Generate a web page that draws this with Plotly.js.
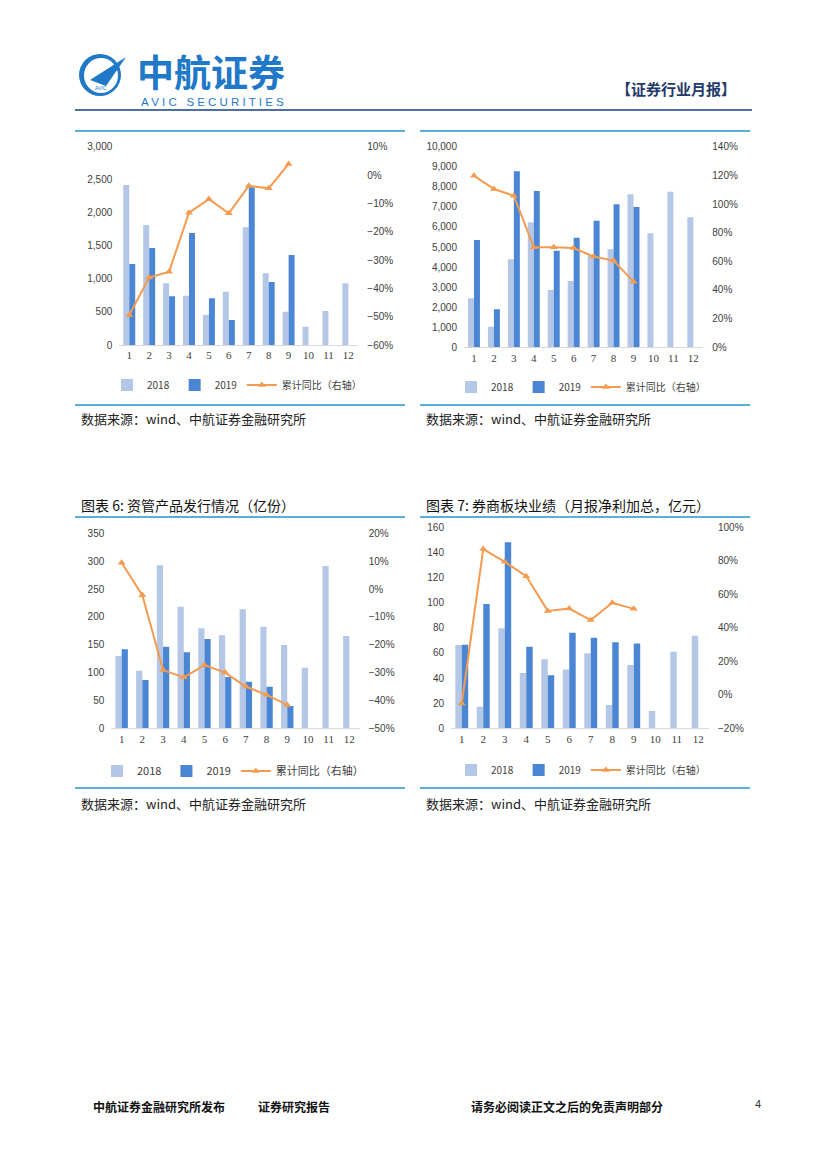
<!DOCTYPE html>
<html><head><meta charset="utf-8">
<script src="https://cdn.plot.ly/plotly-3.0.1.min.js"></script>
<style>html,body{margin:0;padding:0;background:#fff;}#page{width:827px;height:1169px;}</style>
</head><body><div id="page"></div>
<script>
// ---- data ----
const months = ['1','2','3','4','5','6','7','8','9','10','11','12'];
const seriesNames = ['2018','2019','累计同比（右轴）'];

// chart A (top-left)
const a2018 = [2420,1815,933,746,454,807,1780,1084,504,277,514,933];
const a2019 = [1225,1467,736,1694,706,378,2385,953,1361];
const aYoY  = [-0.494,-0.362,-0.341,-0.133,-0.085,-0.135,-0.038,-0.047,0.039];

// chart B (top-right)
const b2018 = [2442,1030,4385,6229,2857,3306,4601,4884,7625,5681,7757,6478];
const b2019 = [5349,1894,8771,7791,4817,5465,6312,7126,6993];
const bYoY  = [1.198,1.105,1.058,0.698,0.698,0.693,0.633,0.605,0.458];

// chart 6: 资管产品发行情况（亿份）
const c2018 = [129.8,103.5,292.5,218.3,179.4,166.9,213.5,182.4,149.5,108.9,291.3,165.7];
const c2019 = [141.7,86.7,146.5,136.4,160.3,92.1,83.7,74.8,40.1];
const cYoY  = [0.094,-0.022,-0.291,-0.317,-0.273,-0.300,-0.350,-0.380,-0.416];

// chart 7: 券商板块业绩（月报净利加总，亿元）
const d2018 = [66.3,17.2,79.6,44.0,54.9,46.9,59.7,18.6,50.4,13.8,61.0,73.7];
const d2019 = [66.6,98.9,148.0,65.0,42.2,76.1,72.1,68.4,67.6];
const dYoY  = [-0.052,0.870,0.794,0.708,0.501,0.515,0.446,0.549,0.513];

const titles = ['图表 6: 资管产品发行情况（亿份）','图表 7: 券商板块业绩（月报净利加总，亿元）'];
const sourceText = '数据来源：wind、中航证券金融研究所';

// ---- style ----
const W = 827, H = 1169;
const px = x => x / W, py = y => 1 - y / H;
const C18 = '#b4c7e7', C19 = '#4a86d3', CL = '#f59b4f';
const RULE = '#5aafd9';
const CJK = '"Noto Sans CJK SC", "Noto Sans", sans-serif';
const NUM = 'Arial, "Liberation Sans", sans-serif';
const SER = '"Liberation Serif", "DejaVu Serif", serif';

const charts = [
  {y18:a2018,y19:a2019,yoy:aYoY, box:[119.3,358.3,146.7,345], left:[0,3000,500], right:[-0.6,0.1,0.1], lg:[107,385,10]},
  {y18:b2018,y19:b2019,yoy:bYoY, box:[464,703.3,146.7,347.3], left:[0,10000,1000], right:[0,1.4,0.2], lg:[451,387,10]},
  {y18:c2018,y19:c2019,yoy:cYoY, box:[111.3,359.7,533.3,728.3], left:[0,350,50], right:[-0.5,0.2,0.1], lg:[97,771,11]},
  {y18:d2018,y19:d2019,yoy:dYoY, box:[451,709,527.3,728.3], left:[0,160,20], right:[-0.2,1.0,0.2], lg:[451,770,10]}
];

const data = [];
const layout = {
  width: W, height: H, margin:{l:0,r:0,t:0,b:0},
  paper_bgcolor:'#fff', plot_bgcolor:'rgba(0,0,0,0)',
  barmode:'group', bargap:0.4, bargroupgap:0,
  shapes:[], annotations:[], font:{family:NUM, color:'#404040', size:10}
};

charts.forEach((c,i)=>{
  const n = i+1;
  const xa = n===1?'x':'x'+n, ya = (2*n-1)===1?'y':'y'+(2*n-1), yb = 'y'+(2*n);
  const lg = n===1?'legend':'legend'+n;
  data.push({type:'bar', name:seriesNames[0], x:months, y:c.y18, marker:{color:C18}, xaxis:xa, yaxis:ya, legend:lg, offsetgroup:'a'});
  data.push({type:'bar', name:seriesNames[1], x:months.slice(0,c.y19.length), y:c.y19, marker:{color:C19}, xaxis:xa, yaxis:ya, legend:lg, offsetgroup:'b'});
  data.push({type:'scatter', mode:'lines+markers', name:seriesNames[2], x:months.slice(0,c.yoy.length), y:c.yoy,
    line:{color:CL,width:2}, marker:{symbol:'triangle-up',size:7,color:CL}, xaxis:xa, yaxis:yb, legend:lg});
  const xk = n===1?'xaxis':'xaxis'+n;
  const yk1 = (2*n-1)===1?'yaxis':'yaxis'+(2*n-1), yk2 = 'yaxis'+(2*n);
  layout[xk] = {domain:[px(c.box[0]),px(c.box[1])], anchor:ya, type:'category',
    range:[-0.5,11.5], showline:true, linecolor:'#d9d9d9', linewidth:1, showgrid:false, zeroline:false, ticks:'',
    tickfont:{family:SER,size:11,color:'#404040'}, fixedrange:true};
  layout[yk1] = {domain:[py(c.box[3]),py(c.box[2])], anchor:xa, range:[c.left[0],c.left[1]], dtick:c.left[2], tick0:0,
    showgrid:false, zeroline:false, showline:false, ticks:'', tickformat:',d', ticklabelstandoff:6,
    tickfont:{family:NUM,size:10,color:'#404040'}};
  layout[yk2] = {domain:[py(c.box[3]),py(c.box[2])], anchor:xa, overlaying:ya, side:'right', range:[c.right[0],c.right[1]],
    dtick:c.right[2], tick0:0, showgrid:false, zeroline:false, showline:false, ticks:'', tickformat:'.0%', ticklabelstandoff:8,
    tickfont:{family:NUM,size:10,color:'#404040'}};
  layout[lg] = {orientation:'h', x:px(c.lg[0]), y:py(c.lg[1]), xanchor:'left', yanchor:'middle',
    font:{family:CJK,size:c.lg[2],color:'#404040'}, bgcolor:'rgba(0,0,0,0)', traceorder:'normal'};
});

// ---- page furniture ----
const hline = (x0,x1,y,color,w)=>layout.shapes.push({type:'line',xref:'paper',yref:'paper',x0:px(x0),x1:px(x1),y0:py(y),y1:py(y),line:{color:color,width:w}});
const txt = (t,x,y,size,opts={})=>layout.annotations.push(Object.assign({text:t,xref:'paper',yref:'paper',x:px(x),y:py(y),
  xanchor:'left',yanchor:'middle',showarrow:false,borderpad:0,font:Object.assign({family:CJK,size:size,color:'#222'},opts.font||{})},opts.a||{}));

// header
hline(75,752,110,'#4f6f9f',2);
layout.shapes.push({type:'circle',xref:'paper',yref:'paper',x0:px(79),x1:px(121),y0:py(96),y1:py(54),fillcolor:'#1f78c8',line:{width:0}});
layout.shapes.push({type:'circle',xref:'paper',yref:'paper',x0:px(84),x1:px(118),y0:py(93),y1:py(58),fillcolor:'#fff',line:{width:0}});
layout.shapes.push({type:'path',xref:'paper',yref:'paper',path:`M ${px(90)} ${py(80)} L ${px(126)} ${py(57)} L ${px(106)} ${py(86)} Z`,fillcolor:'#1f78c8',line:{width:0}});
txt('AVIC',94,88,5,{font:{family:NUM,color:'#1f78c8'}});
txt('<b>中航证券</b>',136,71,37,{font:{color:'#1f78c8'}});
txt('A V I C&nbsp;&nbsp;&nbsp;S E C U R I T I E S',140,102,11.5,{font:{family:NUM,color:'#1f78c8'}});
txt('<b>【证券行业月报】</b>',737,88,15,{font:{color:'#1f3a6b'},a:{xanchor:'right'}});

// chart frames
hline(75,405,131,RULE,2); hline(420,750,131,RULE,2);
hline(75,405,405,RULE,2); hline(420,750,405,RULE,2);
hline(75,405,517,RULE,2); hline(420,750,517,RULE,2);
hline(75,405,788,RULE,2); hline(420,750,788,RULE,2);
txt(sourceText,80,418,13,{font:{color:'#222'}});
txt(sourceText,425,418,13,{font:{color:'#222'}});
txt(sourceText,80,803,13,{font:{color:'#222'}});
txt(sourceText,425,803,13,{font:{color:'#222'}});
txt(titles[0],80,505,14,{font:{color:'#111'}});
txt(titles[1],425,505,14,{font:{color:'#111'}});

// footer
txt('<b>中航证券金融研究所发布</b>',92,1106,12,{font:{color:'#111'}});
txt('<b>证券研究报告</b>',257,1106,12,{font:{color:'#111'}});
txt('<b>请务必阅读正文之后的免责声明部分</b>',470,1106,12,{font:{color:'#111'}});
txt('4',754,1104,11,{font:{family:NUM,color:'#333'}});

Plotly.newPlot('page', data, layout, {displayModeBar:false, staticPlot:true});
</script></body></html>
